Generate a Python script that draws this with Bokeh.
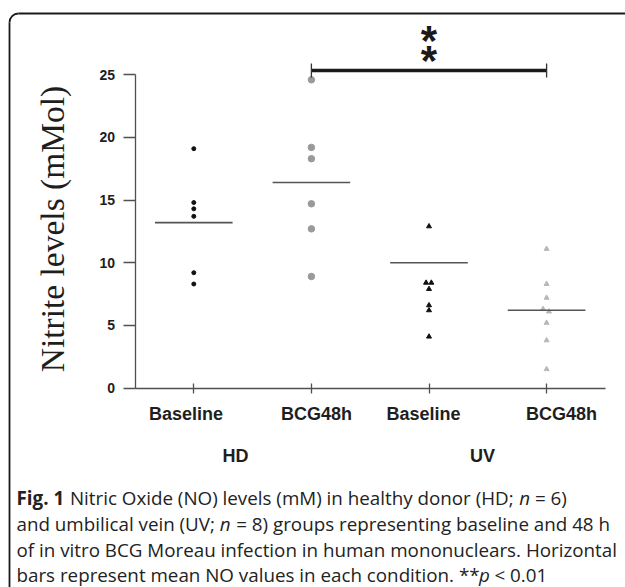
import math
from bokeh.plotting import figure
from bokeh.models import Label, FixedTicker, LinearAxis
from bokeh.embed import file_html
from bokeh.resources import INLINE
from bokeh.core.properties import value

# ---------------- data ----------------
categories = ["Baseline", "BCG48h", "Baseline", "BCG48h"]
groups = ["HD", "UV"]
hd_baseline = [19.1, 14.8, 14.3, 13.7, 9.2, 8.3]
hd_bcg48h = [24.6, 19.2, 18.3, 14.7, 12.7, 8.9]
uv_baseline = [12.9, 8.4, 8.4, 7.9, 6.6, 6.2, 4.1]
uv_bcg48h = [11.1, 8.3, 7.2, 6.3, 6.1, 5.2, 3.8, 1.5]
uv_baseline_dodge = [0, -0.025, 0.02, 0, 0, 0, 0]
uv_bcg48h_dodge = [0, 0, 0, -0.03, 0.02, 0, 0, 0]
means = [13.2, 16.4, 10.0, 6.2]
y_ticks = [0, 5, 10, 15, 20, 25]
sig_from, sig_to = 2, 4
sig_text = "*"

# ---------------- layout (frame = whole canvas, axes at fixed locations) ----------------
W, H = 625, 587
AXX, SX = 134.5, 117.6   # pixel x of data x=0.5, px per unit
AXY, SY = 387.5, 12.53   # pixel y of data y=0, px per unit
X0 = 0.5 - AXX / SX
X1 = 0.5 + (W - AXX) / SX
Y1 = AXY / SY
Y0 = -(H - AXY) / SY


def dx(px):
    return 0.5 + (px - AXX) / SX


def dy(py):
    return (AXY - py) / SY


p = figure(width=W, height=H, x_range=(X0, X1), y_range=(Y0, Y1),
           output_backend="svg", toolbar_location=None,
           x_axis_location=None, y_axis_location=None)
p.min_border = 0
p.min_border_left = p.min_border_right = p.min_border_top = p.min_border_bottom = 0
p.outline_line_color = None
p.xgrid.grid_line_color = None
p.ygrid.grid_line_color = None
p.background_fill_color = "white"
p.border_fill_color = "white"

AX = "#505050"
TXT = "#1e1e1e"

xa = LinearAxis(fixed_location=0, bounds=(0.5, 4.5))
xa.ticker = FixedTicker(ticks=[1, 2, 3, 4])
xa.major_label_overrides = {i + 1: "" for i in range(len(categories))}
xa.minor_tick_line_color = None
xa.axis_line_color = AX
xa.axis_line_width = 1.3
xa.major_tick_line_color = AX
xa.major_tick_line_width = 1.3
xa.major_tick_in = 5
xa.major_tick_out = 5
p.add_layout(xa, "below")

ya = LinearAxis(fixed_location=0.5, bounds=(0, 25))
ya.ticker = FixedTicker(ticks=y_ticks)
ya.minor_tick_line_color = None
ya.axis_line_color = AX
ya.axis_line_width = 1.3
ya.major_tick_line_color = AX
ya.major_tick_line_width = 1.3
ya.major_tick_in = 0
ya.major_tick_out = 12
ya.major_label_standoff = 8
ya.major_label_text_font = "Liberation Sans"
ya.major_label_text_font_style = "bold"
ya.major_label_text_font_size = "14px"
ya.major_label_text_color = TXT
p.add_layout(ya, "left")

# category labels under the ticks
for c, px in zip(categories, [185.5, 316, 423, 561]):
    p.add_layout(Label(x=dx(px), y=dy(413.5), text=c, text_align="center",
                       text_baseline="middle", text_font="Liberation Sans",
                       text_font_style="bold", text_font_size="18px", text_color=TXT))

# points
p.scatter(x=[1] * len(hd_baseline), y=hd_baseline, marker="circle", size=4,
          color="#111111")
p.scatter(x=[2] * len(hd_bcg48h), y=hd_bcg48h, marker="circle", size=6.5,
          color="#9a9a9a")
p.scatter(x=[3 + d for d in uv_baseline_dodge], y=uv_baseline, marker="triangle",
          size=5, color="#111111")
p.scatter(x=[4 + d for d in uv_bcg48h_dodge], y=uv_bcg48h, marker="triangle",
          size=5, color="#b8b8b8")

# mean bars
pos = [1, 2, 3, 4]
p.segment(x0=[q - 0.33 for q in pos], x1=[q + 0.33 for q in pos], y0=means, y1=means,
          line_color="#555555", line_width=1.6)

# significance bracket
sig_y = dy(70)
p.segment(x0=[sig_from], x1=[sig_to], y0=[sig_y], y1=[sig_y], line_color="#1a1a1a",
          line_width=3.5)
p.segment(x0=[sig_from, sig_to], x1=[sig_from, sig_to], y0=[dy(77)] * 2, y1=[dy(63)] * 2,
          line_color="#333333", line_width=1.3)
p.text(x=[(sig_from + sig_to) / 2] * 2, y=[dy(40), dy(59.5)], text=[sig_text, sig_text],
       text_font=value("Liberation Sans"), text_font_style="bold",
       text_font_size="42px", text_align="center", text_baseline="alphabetic",
       text_color="#1a1a1a")

# y axis title
p.add_layout(Label(x=dx(52), y=dy(228.5), text="Nitrite levels (mMol)", angle=math.pi / 2,
                   text_align="center", text_baseline="middle",
                   text_font="Liberation Serif", text_font_size="33.5px",
                   text_color=TXT))

# group labels
for g, px in zip(groups, [235, 482]):
    p.add_layout(Label(x=dx(px), y=dy(455.5), text=g, text_align="center",
                       text_baseline="middle", text_font="Liberation Sans",
                       text_font_style="bold", text_font_size="18px", text_color=TXT))

# caption
CF = "Open Sans"
CS = "18.8px"
CC = "#222222"
segments = [
    (16, 497, "Fig. 1", "bold"),
    (69.4, 497, "Nitric Oxide (NO) levels (mM) in healthy donor (HD;", "normal"),
    (518.7, 497, "n", "italic"),
    (534.5, 497, "= 6)", "normal"),
    (16, 523, "and umbilical vein (UV;", "normal"),
    (219.3, 523, "n", "italic"),
    (235.7, 523, "= 8) groups representing baseline and 48 h", "normal"),
    (16, 549, "of in vitro BCG Moreau infection in human mononuclears. Horizontal", "normal"),
    (16, 574, "bars represent mean NO values in each condition. **", "normal"),
    (478.5, 574, "p", "italic"),
    (494, 574, "< 0.01", "normal"),
]
for px, py, t, st in segments:
    p.add_layout(Label(x=dx(px), y=dy(py), text=t, text_align="left",
                       text_baseline="middle", text_font=CF,
                       text_font_style=st, text_font_size=CS, text_color=CC))

# outer rounded frame (only its top and left sides fall inside the crop)
FR = "#1a1a1a"
FW = 1.8
R = 9
p.segment(x0=[dx(9), dx(9 + R)], x1=[dx(9), dx(700)],
          y0=[dy(13 + R), dy(13)], y1=[dy(700), dy(13)],
          line_color=FR, line_width=FW)
p.arc(x=[dx(9 + R)], y=[dy(13 + R)], radius=R, radius_units="screen",
      start_angle=math.pi / 2, end_angle=math.pi, line_color=FR, line_width=FW)

open("out.html", "w").write(file_html(p, INLINE))
